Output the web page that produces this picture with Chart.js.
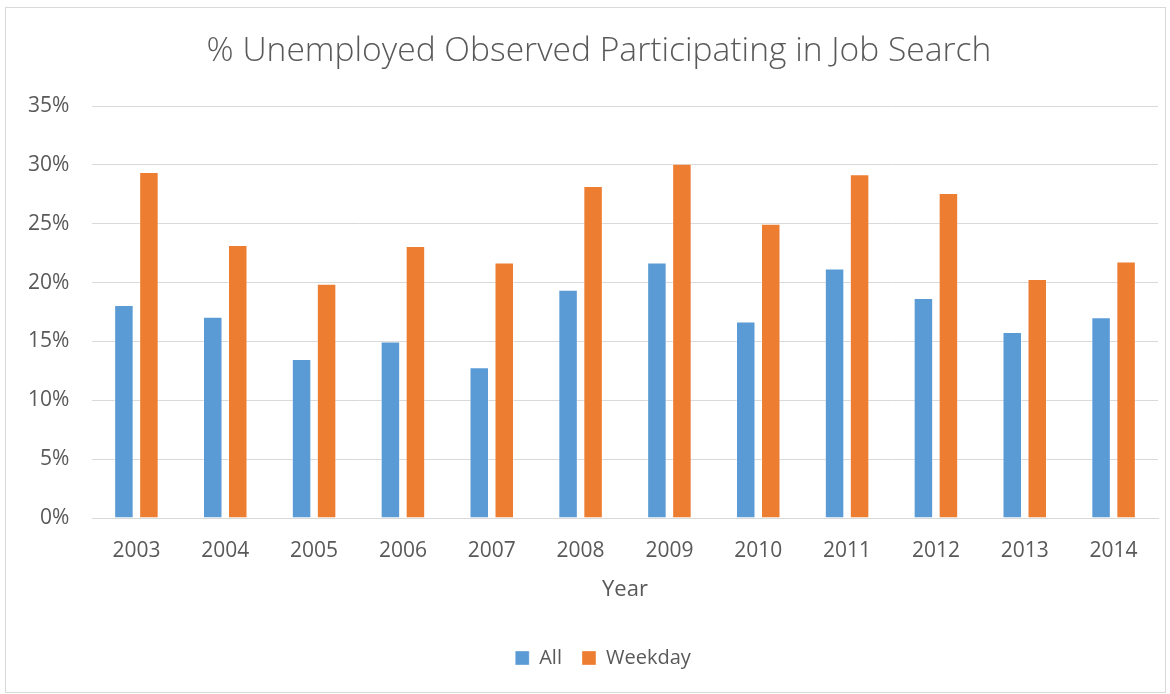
<!DOCTYPE html>
<html>
<head>
<meta charset="utf-8">
<script src="https://cdn.jsdelivr.net/npm/chart.js@4/dist/chart.umd.min.js"></script>
<style>
  html, body { margin: 0; padding: 0; background: #fff; }
  #wrap { position: relative; width: 1170px; height: 694px; }
  #frame { position: absolute; left: 5px; top: 7px; width: 1159px; height: 684px; border: 1px solid #d9d9d9; pointer-events: none; }
  canvas { position: absolute; left: 0; top: 0; }
</style>
</head>
<body>
<div id="wrap">
  <canvas id="grafico" width="1170" height="694"></canvas>
  <div id="frame"></div>
</div>
<script>
    const anos = ['2003', '2004', '2005', '2006', '2007', '2008', '2009', '2010', '2011', '2012', '2013', '2014'];
    const todos = [18.1, 17.1, 13.5, 15.0, 12.8, 19.4, 21.7, 16.7, 21.2, 18.7, 15.8, 17.05];
    const diasUteis = [29.4, 23.2, 19.9, 23.1, 21.7, 28.2, 30.1, 25.0, 29.2, 27.6, 20.3, 21.8];

    const corTexto = '#595959';
    const fonte = "'Open Sans', 'Liberation Sans', sans-serif";

    // título e legenda ficam um pouco à direita do centro do canvas
    const deslocarCaixas = {
        id: 'deslocarCaixas',
        afterLayout(chart) {
            if (chart.titleBlock) {
                chart.titleBlock.left += 20;
                chart.titleBlock.right += 20;
            }
            if (chart.legend) {
                chart.legend.left += 24;
                chart.legend.right += 24;
            }
        }
    };

    function desenharGrafico() {
        new Chart(document.getElementById('grafico'), {
            type: 'bar',
            data: {
                labels: anos,
                datasets: [
                    { label: 'All', data: todos, backgroundColor: '#5B9BD5', borderColor: 'rgba(255,255,255,0.35)', borderWidth: 1 },
                    { label: 'Weekday', data: diasUteis, backgroundColor: '#ED7D31', borderColor: 'rgba(255,255,255,0.35)', borderWidth: 1 }
                ]
            },
            options: {
                responsive: false,
                animation: false,
                categoryPercentage: 0.563,
                barPercentage: 0.78,
                layout: { padding: { top: 14, left: 0, right: 12, bottom: 16 } },
                plugins: {
                    title: {
                        display: true,
                        text: '% Unemployed Observed Participating in Job Search',
                        color: corTexto,
                        font: { family: fonte, size: 33.6, weight: '300' },
                        padding: { top: 17, bottom: 34.7 }
                    },
                    legend: {
                        position: 'bottom',
                        labels: {
                            color: corTexto,
                            font: { family: fonte, size: 20 },
                            boxWidth: 14,
                            boxHeight: 14,
                            padding: 20
                        }
                    },
                    tooltip: { enabled: false }
                },
                scales: {
                    x: {
                        grid: { display: false, drawTicks: false },
                        border: { color: '#d9d9d9' },
                        ticks: { color: corTexto, font: { family: fonte, size: 21 }, padding: 20.4 },
                        title: {
                            display: true,
                            text: 'Year',
                            color: corTexto,
                            font: { family: fonte, size: 22 },
                            padding: { top: 4, bottom: 24.8 }
                        },
                        afterFit: (scale) => { scale.height = 110; }
                    },
                    y: {
                        min: 0,
                        max: 35,
                        grid: { color: '#d9d9d9', drawTicks: false },
                        border: { display: false },
                        ticks: {
                            stepSize: 5,
                            color: corTexto,
                            font: { family: fonte, size: 21 },
                            padding: 22.7,
                            callback: (v) => v + '%'
                        },
                        afterFit: (scale) => { scale.width = 92; }
                    }
                }
            },
            plugins: [deslocarCaixas]
        });
    }

    document.addEventListener('DOMContentLoaded', desenharGrafico);
</script>
</body>
</html>
